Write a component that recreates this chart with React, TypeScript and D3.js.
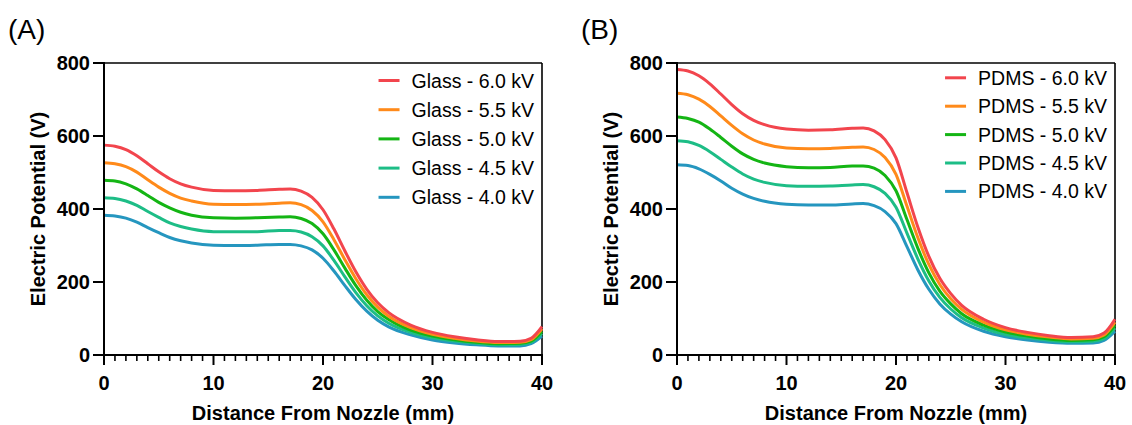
import React from "react";
import * as d3 from "d3";

const distances = [0, 1, 2, 3, 4, 5, 6, 7, 8, 10, 12, 14, 16, 17, 18, 19, 20, 21, 22, 23, 24, 25, 26, 28, 30, 32, 34, 36, 38, 39, 40];

const glass60 = [575, 572, 563, 546, 524, 502, 483, 469, 460, 451, 450, 451, 454, 455, 449, 432, 398, 345, 285, 228, 180, 143, 116, 82, 62, 50, 42, 37, 38, 46, 78];
const glass55 = [527, 524, 516, 501, 480, 460, 443, 430, 422, 413, 412, 413, 416, 417, 412, 396, 365, 316, 261, 209, 165, 131, 106, 75, 57, 46, 38, 34, 35, 42, 72];
const glass50 = [479, 477, 469, 455, 437, 418, 403, 391, 383, 376, 375, 376, 378, 379, 374, 360, 332, 288, 238, 190, 150, 119, 97, 68, 52, 42, 35, 31, 32, 38, 65];
const glass45 = [431, 429, 422, 410, 393, 377, 362, 352, 345, 338, 338, 338, 341, 341, 337, 324, 299, 259, 214, 171, 135, 107, 87, 62, 47, 38, 32, 28, 29, 35, 59];
const glass40 = [383, 381, 375, 364, 349, 335, 322, 313, 307, 301, 300, 301, 303, 303, 299, 288, 265, 230, 190, 152, 120, 95, 77, 55, 41, 33, 28, 25, 25, 31, 52];

const pdms60 = [782, 778, 765, 743, 715, 686, 661, 643, 631, 619, 616, 617, 621, 622, 614, 590, 540, 445, 350, 270, 210, 168, 136, 98, 75, 62, 53, 48, 50, 60, 98];
const pdms55 = [717, 713, 701, 681, 655, 629, 606, 589, 578, 567, 565, 566, 569, 570, 563, 541, 495, 408, 321, 248, 193, 154, 125, 90, 69, 57, 49, 44, 46, 55, 90];
const pdms50 = [652, 648, 638, 619, 596, 572, 551, 536, 526, 516, 513, 514, 518, 518, 512, 492, 450, 371, 292, 225, 175, 140, 113, 82, 63, 52, 44, 40, 42, 50, 82];
const pdms45 = [587, 584, 574, 557, 536, 515, 496, 482, 473, 464, 462, 463, 466, 467, 461, 443, 405, 334, 263, 203, 158, 126, 102, 74, 56, 47, 40, 36, 38, 45, 74];
const pdms40 = [521, 519, 510, 495, 477, 457, 441, 429, 421, 413, 411, 411, 414, 415, 409, 393, 360, 297, 233, 180, 140, 112, 91, 65, 50, 41, 35, 32, 33, 40, 65];

const voltages = ["6.0", "5.5", "5.0", "4.5", "4.0"];
const colors = ["#f2454d", "#ff8a1a", "#14b514", "#1dbd86", "#2596bf"];

const xTicks = [0, 10, 20, 30, 40];
const yTicks = [0, 200, 400, 600, 800];

const panels = [
  { tag: "(A)", name: "Glass", series: [glass60, glass55, glass50, glass45, glass40], left: 104, legendTop: 80.5, legendStep: 29.2 },
  { tag: "(B)", name: "PDMS", series: [pdms60, pdms55, pdms50, pdms45, pdms40], left: 677, legendTop: 77.8, legendStep: 28.4 },
];

const FONT = "Arial, 'Liberation Sans', sans-serif";
const W = 438;
const TOP = 63;
const BOTTOM = 355;

function Panel({ p }: { p: (typeof panels)[number] }) {
  const x = d3.scaleLinear().domain([0, 40]).range([p.left, p.left + W]);
  const y = d3.scaleLinear().domain([0, 800]).range([BOTTOM, TOP]);
  const line = d3
    .line<number>()
    .x((_, i) => x(distances[i]))
    .y((d) => y(d))
    .curve(d3.curveMonotoneX);
  const minor = d3.range(0, 41, 1).filter((v) => v % 10 !== 0);
  const right = p.left + W;
  return (
    <g>
      <text x={p.left - 96} y={39} fontFamily={FONT} fontSize={28} fill="#000">
        {p.tag}
      </text>
      {/* frame */}
      <line x1={p.left} x2={right} y1={TOP} y2={TOP} stroke="#000" strokeWidth={1.6} />
      <line x1={right} x2={right} y1={TOP} y2={BOTTOM} stroke="#000" strokeWidth={1.6} />
      {/* curves */}
      {p.series
        .map((s, i) => (
          <path key={i} d={line(s) || ""} fill="none" stroke={colors[i]} strokeWidth={3} strokeLinejoin="round" />
        ))
        .reverse()}
      {/* axes */}
      <line x1={p.left} x2={p.left} y1={TOP - 1} y2={BOTTOM + 1} stroke="#000" strokeWidth={2} />
      <line x1={p.left - 1} x2={right + 1} y1={BOTTOM} y2={BOTTOM} stroke="#000" strokeWidth={2} />
      {yTicks.map((t) => (
        <g key={t}>
          <line x1={p.left - 11} x2={p.left} y1={y(t)} y2={y(t)} stroke="#000" strokeWidth={2} />
          <text x={p.left - 14} y={y(t)} dy="0.36em" textAnchor="end" fontFamily={FONT} fontWeight="bold" fontSize={20} fill="#000">
            {t}
          </text>
        </g>
      ))}
      {xTicks.map((t) => (
        <g key={t}>
          <line x1={x(t)} x2={x(t)} y1={BOTTOM} y2={BOTTOM + 10} stroke="#000" strokeWidth={2} />
          <text x={x(t)} y={390} textAnchor="middle" fontFamily={FONT} fontWeight="bold" fontSize={20} fill="#000">
            {t}
          </text>
        </g>
      ))}
      {minor.map((t) => (
        <line key={t} x1={x(t)} x2={x(t)} y1={BOTTOM} y2={BOTTOM + 6} stroke="#000" strokeWidth={1.6} />
      ))}
      <text x={p.left + W / 2} y={419.5} textAnchor="middle" fontFamily={FONT} fontWeight="bold" fontSize={20} fill="#000">
        Distance From Nozzle (mm)
      </text>
      <text
        transform={`translate(${p.left - 59},${(TOP + BOTTOM) / 2}) rotate(-90)`}
        textAnchor="middle"
        fontFamily={FONT}
        fontWeight="bold"
        fontSize={20}
        fill="#000"
      >
        Electric Potential (V)
      </text>
      {/* legend */}
      {voltages.map((v, i) => {
        const ly = p.legendTop + i * p.legendStep;
        const label = `${p.name} - ${v} kV`;
        return (
          <g key={v}>
            <text x={right - 8} y={ly} dy="0.36em" textAnchor="end" fontFamily={FONT} fontSize={19.5} fill="#000">
              {label}
            </text>
          </g>
        );
      })}
    </g>
  );
}

function Legend({ p }: { p: (typeof panels)[number] }) {
  const right = p.left + W;
  const ref = React.useRef<SVGGElement>(null);
  const [starts, setStarts] = React.useState<number[]>([]);
  React.useEffect(() => {
    if (!ref.current) return;
    const texts = Array.from(ref.current.querySelectorAll("text")) as SVGTextElement[];
    setStarts(texts.map((t) => t.getBBox().x));
  }, []);
  return (
    <g ref={ref}>
      {voltages.map((v, i) => {
        const ly = p.legendTop + i * p.legendStep;
        return (
          <text key={v} x={right - 8} y={ly} dy="0.36em" textAnchor="end" fontFamily={FONT} fontSize={19.5} fill="transparent">
            {`${p.name} - ${v} kV`}
          </text>
        );
      })}
      {voltages.map((v, i) => {
        const ly = p.legendTop + i * p.legendStep;
        const sx = starts[i] !== undefined ? starts[i] - 12 : right - 150;
        return <line key={"l" + v} x1={sx - 21} x2={sx} y1={ly} y2={ly} stroke={colors[i]} strokeWidth={3} />;
      })}
    </g>
  );
}

export default function App() {
  return (
    <svg width={1132} height={425} style={{ position: "absolute", left: 0, top: 0, background: "#fff" }}>
      <rect width={1132} height={425} fill="#fff" />
      {panels.map((p) => (
        <g key={p.tag}>
          <Panel p={p} />
          <Legend p={p} />
        </g>
      ))}
    </svg>
  );
}
